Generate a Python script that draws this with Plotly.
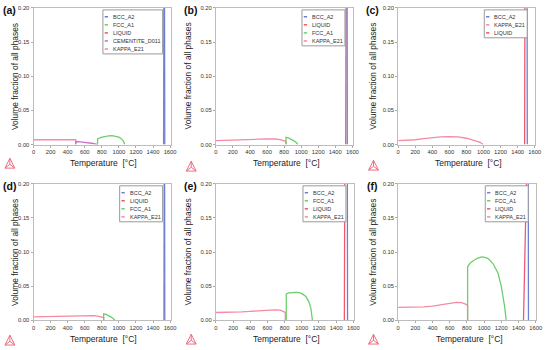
import plotly.graph_objects as go

# ---------------- data (temperature °C, volume fraction) ----------------
# (a)
A_BCC_T = [0, 1520, 1535, 1538]
A_BCC_F = [0.97, 0.96, 0.20, 0.0]
A_LIQ_T = [1524, 1527, 1540]
A_LIQ_F = [0.0, 0.20, 1.0]
A_FCC_T = [750, 750, 790, 840, 880, 920, 960, 1000, 1030, 1055, 1068]
A_FCC_F = [0.0, 0.0083, 0.0105, 0.0120, 0.0127, 0.0129, 0.0124, 0.0108, 0.0082, 0.0045, 0.0]
A_CEM_T = [495, 495, 550, 600, 650, 700, 752]
A_CEM_F = [0.0, 0.0044, 0.0040, 0.0034, 0.0026, 0.0015, 0.0]
A_KAP_T = [0, 100, 200, 300, 400, 495, 495]
A_KAP_F = [0.0070, 0.0070, 0.0070, 0.0070, 0.0070, 0.0070, 0.0]

# (b)
B_BCC_T = [0, 1522, 1538, 1540]
B_BCC_F = [0.97, 0.96, 0.20, 0.0]
B_LIQ_T = [1522, 1525, 1540]
B_LIQ_F = [0.0, 0.20, 1.0]
B_FCC_T = [822, 822, 850, 880, 910, 940, 962]
B_FCC_F = [0.0, 0.0105, 0.0096, 0.0080, 0.0058, 0.0032, 0.0]
B_KAP_T = [0, 100, 200, 300, 400, 500, 600, 650, 700, 750, 800, 822, 822]
B_KAP_F = [0.0058, 0.0060, 0.0063, 0.0067, 0.0072, 0.0078, 0.0083, 0.0084, 0.0081, 0.0072, 0.0058, 0.0048, 0.0]

# (c)
C_BCC_T = [0, 1482, 1511, 1513]
C_BCC_F = [0.97, 0.96, 0.20, 0.0]
C_KAP_T = [0, 100, 200, 300, 400, 500, 600, 700, 800, 900, 960, 995]
C_KAP_F = [0.0058, 0.0062, 0.0070, 0.0085, 0.0100, 0.0112, 0.0117, 0.0112, 0.0092, 0.0060, 0.0032, 0.0]
C_LIQ_T = [1482, 1485, 1510]
C_LIQ_F = [0.0, 0.20, 1.0]

# (d)
D_BCC_T = [0, 1528, 1536, 1538]
D_BCC_F = [0.97, 0.96, 0.20, 0.0]
D_LIQ_T = [1528, 1531, 1540]
D_LIQ_F = [0.0, 0.20, 1.0]
D_FCC_T = [822, 822, 850, 880, 910, 935, 955]
D_FCC_F = [0.0, 0.0097, 0.0088, 0.0072, 0.0050, 0.0026, 0.0]
D_KAP_T = [0, 100, 200, 300, 400, 500, 600, 650, 700, 750, 800, 822, 822]
D_KAP_F = [0.0053, 0.0055, 0.0058, 0.0061, 0.0065, 0.0069, 0.0073, 0.0074, 0.0072, 0.0064, 0.0052, 0.0043, 0.0]

# (e)
E_BCC_T = [0, 1497, 1530, 1532]
E_BCC_F = [0.97, 0.96, 0.20, 0.0]
E_FCC_T = [819, 819, 850, 895, 935, 971, 1010, 1048, 1080, 1105, 1124]
E_FCC_F = [0.0, 0.0388, 0.0405, 0.0413, 0.0412, 0.0408, 0.0385, 0.0350, 0.0280, 0.0180, 0.0]
E_LIQ_T = [1495, 1500, 1530]
E_LIQ_F = [0.0, 0.20, 1.0]
E_KAP_T = [0, 100, 200, 300, 400, 500, 600, 686, 750, 781, 808, 808]
E_KAP_F = [0.0117, 0.0118, 0.0120, 0.0125, 0.0133, 0.0142, 0.0150, 0.0155, 0.0150, 0.0136, 0.0117, 0.0]

# (f)
F_BCC_T = [0, 1458, 1514, 1516]
F_BCC_F = [0.95, 0.94, 0.20, 0.0]
F_FCC_T = [808, 808, 838, 875, 914, 971, 1010, 1048, 1105, 1162, 1200, 1238, 1257]
F_FCC_F = [0.0, 0.0786, 0.0843, 0.0880, 0.0906, 0.0930, 0.0925, 0.0906, 0.0830, 0.0690, 0.0500, 0.0210, 0.0]
F_LIQ_T = [1458, 1492, 1520]
F_LIQ_F = [0.0, 0.20, 1.0]
F_KAP_T = [0, 100, 200, 300, 400, 500, 600, 680, 740, 790, 808, 808]
F_KAP_F = [0.0193, 0.0194, 0.0196, 0.0200, 0.0210, 0.0225, 0.0250, 0.0265, 0.0260, 0.0235, 0.0222, 0.0]

# legend order per panel
A_ORDER = ["BCC_A2", "FCC_A1", "LIQUID", "CEMENTITE_D011", "KAPPA_E21"]
B_ORDER = ["BCC_A2", "LIQUID", "FCC_A1", "KAPPA_E21"]
C_ORDER = ["BCC_A2", "KAPPA_E21", "LIQUID"]
D_ORDER = ["BCC_A2", "LIQUID", "FCC_A1", "KAPPA_E21"]
E_ORDER = ["BCC_A2", "FCC_A1", "LIQUID", "KAPPA_E21"]
F_ORDER = ["BCC_A2", "FCC_A1", "LIQUID", "KAPPA_E21"]

PANEL_LABELS = ["(a)", "(b)", "(c)", "(d)", "(e)", "(f)"]
X_TICKS = [0, 200, 400, 600, 800, 1000, 1200, 1400, 1600]
Y_TICKS = [0.0, 0.05, 0.10, 0.15, 0.20]
X_TITLE = "Temperature  [°C]"
Y_TITLE = "Volume fraction of all phases"

# ---------------- styling ----------------
COLORS = {
    "BCC_A2": "#6d7fd2",
    "FCC_A1": "#6bd06b",
    "LIQUID": "#f0586c",
    "CEMENTITE_D011": "#cc6fd0",
    "KAPPA_E21": "#f58aa4",
}
FONT = "Liberation Sans, Arial, sans-serif"
W, H = 550, 350

panels = [
    ({"KAPPA_E21": (A_KAP_T, A_KAP_F), "CEMENTITE_D011": (A_CEM_T, A_CEM_F),
      "FCC_A1": (A_FCC_T, A_FCC_F), "LIQUID": (A_LIQ_T, A_LIQ_F), "BCC_A2": (A_BCC_T, A_BCC_F)}, A_ORDER),
    ({"KAPPA_E21": (B_KAP_T, B_KAP_F), "FCC_A1": (B_FCC_T, B_FCC_F),
      "LIQUID": (B_LIQ_T, B_LIQ_F), "BCC_A2": (B_BCC_T, B_BCC_F)}, B_ORDER),
    ({"KAPPA_E21": (C_KAP_T, C_KAP_F), "LIQUID": (C_LIQ_T, C_LIQ_F),
      "BCC_A2": (C_BCC_T, C_BCC_F)}, C_ORDER),
    ({"KAPPA_E21": (D_KAP_T, D_KAP_F), "FCC_A1": (D_FCC_T, D_FCC_F),
      "LIQUID": (D_LIQ_T, D_LIQ_F), "BCC_A2": (D_BCC_T, D_BCC_F)}, D_ORDER),
    ({"KAPPA_E21": (E_KAP_T, E_KAP_F), "FCC_A1": (E_FCC_T, E_FCC_F),
      "LIQUID": (E_LIQ_T, E_LIQ_F), "BCC_A2": (E_BCC_T, E_BCC_F)}, E_ORDER),
    ({"KAPPA_E21": (F_KAP_T, F_KAP_F), "FCC_A1": (F_FCC_T, F_FCC_F),
      "LIQUID": (F_LIQ_T, F_LIQ_F), "BCC_A2": (F_BCC_T, F_BCC_F)}, F_ORDER),
]

# plot-area pixel boxes (left, top, right, bottom)
boxes = [
    (32, 5, 171, 144), (217, 5, 356, 144), (402, 5, 541, 144),
    (32, 184, 171, 323), (217, 184, 357, 323), (402, 184, 542, 323),
]
ytitle_x = [13, 189, 377]
label_pos = [(8, 7), (191, 7), (376, 7), (8, 186), (191, 186), (376, 186)]
logo_top = [158, 161, 160, 338, 337, 337]


def fx(p):
    return p / W


def fy(p):
    return 1 - p / H


fig = go.Figure()
shapes = []
annotations = []
layout = {}

for i, ((series, order), box) in enumerate(zip(panels, boxes)):
    n = i + 1
    xa = "x" if n == 1 else f"x{n}"
    ya = "y" if n == 1 else f"y{n}"
    L, T, R, B = box
    for name in ["KAPPA_E21", "CEMENTITE_D011", "FCC_A1", "LIQUID", "BCC_A2"]:
        if name not in series:
            continue
        t, f = series[name]
        fig.add_trace(go.Scatter(
            x=t, y=f, mode="lines", name=name, showlegend=False,
            line=dict(color=COLORS[name], width=1.3),
            xaxis=xa, yaxis=ya, hoverinfo="skip", cliponaxis=True,
        ))
    axcommon = dict(showgrid=False, zeroline=False, showline=True, mirror=True,
                    linecolor="#bdbdbd", linewidth=1, ticks="outside", ticklen=2,
                    tickcolor="#aaaaaa", tickfont=dict(family=FONT, size=5.8, color="#333333"))
    layout["xaxis" if n == 1 else f"xaxis{n}"] = dict(
        domain=[fx(L), fx(R)], anchor=ya, range=[0, 1605], tickvals=X_TICKS,
        ticktext=[str(v) for v in X_TICKS], **axcommon)
    layout["yaxis" if n == 1 else f"yaxis{n}"] = dict(
        domain=[fy(B), fy(T)], anchor=xa, range=[0, 0.2], tickvals=Y_TICKS,
        tickformat=".2f", **axcommon)

    # axis titles
    annotations.append(dict(text=X_TITLE, x=fx((L + R) / 2 + 2), y=fy(B + 19), xref="paper", yref="paper",
                            showarrow=False, xanchor="center", yanchor="middle",
                            font=dict(family=FONT, size=8.5, color="#222222")))
    annotations.append(dict(text=Y_TITLE, x=fx(ytitle_x[i % 3]), y=fy((T + B) / 2), xref="paper", yref="paper",
                            showarrow=False, xanchor="center", yanchor="middle", textangle=-90,
                            font=dict(family=FONT, size=8.4, color="#222222")))
    # panel label
    lx, ly = label_pos[i]
    annotations.append(dict(text="<b>" + PANEL_LABELS[i] + "</b>", x=fx(lx), y=fy(ly), xref="paper", yref="paper",
                            showarrow=False, xanchor="center", yanchor="middle",
                            font=dict(family=FONT, size=10.5, color="#111111")))

    # manual legend
    maxlen = max(len(s) for s in order)
    bw = 13 + 3.4 * maxlen
    bh = 12 + (len(order) - 1) * 8.2
    br = R - 8
    bt = T + 2
    bl = br - bw
    shapes.append(dict(type="rect", xref="paper", yref="paper", x0=fx(bl), x1=fx(br), y0=fy(bt), y1=fy(bt + bh),
                       line=dict(color="#9a9a9a", width=1), fillcolor="white", layer="above"))
    for k, name in enumerate(order):
        yc = bt + 7 + k * 8.2
        shapes.append(dict(type="line", xref="paper", yref="paper", x0=fx(bl + 1.8), x1=fx(bl + 5.2),
                           y0=fy(yc), y1=fy(yc), line=dict(color=COLORS[name], width=1.5), layer="above"))
        annotations.append(dict(text=name, x=fx(bl + 8), y=fy(yc), xref="paper", yref="paper",
                                showarrow=False, xanchor="left", yanchor="middle",
                                font=dict(family=FONT, size=5.5, color="#333333")))

    # Thermo-Calc style logo
    gx = L - 29 if i % 3 == 0 else L - 30
    gy = logo_top[i]
    s = 10
    x0, x1, xm = gx, gx + s, gx + s / 2
    y0, y1 = gy + s, gy
    ycen = gy + s * 0.62
    path = (f"M {fx(x0)},{fy(y0)} L {fx(xm)},{fy(y1)} L {fx(x1)},{fy(y0)} Z "
            f"M {fx(x0)},{fy(y0)} L {fx(xm)},{fy(ycen)} L {fx(x1)},{fy(y0)} "
            f"M {fx(xm)},{fy(y1)} L {fx(xm)},{fy(ycen)}")
    shapes.append(dict(type="path", xref="paper", yref="paper", path=path,
                       line=dict(color="#ec6f86", width=1)))

fig.update_layout(
    width=W, height=H, margin=dict(l=0, r=0, t=0, b=0),
    paper_bgcolor="white", plot_bgcolor="white", showlegend=False,
    shapes=shapes, annotations=annotations, **layout,
)

fig.write_html("out.html", config={"displayModeBar": False, "staticPlot": True},
               post_script="document.body.style.margin='0';document.body.style.overflow='hidden';")
